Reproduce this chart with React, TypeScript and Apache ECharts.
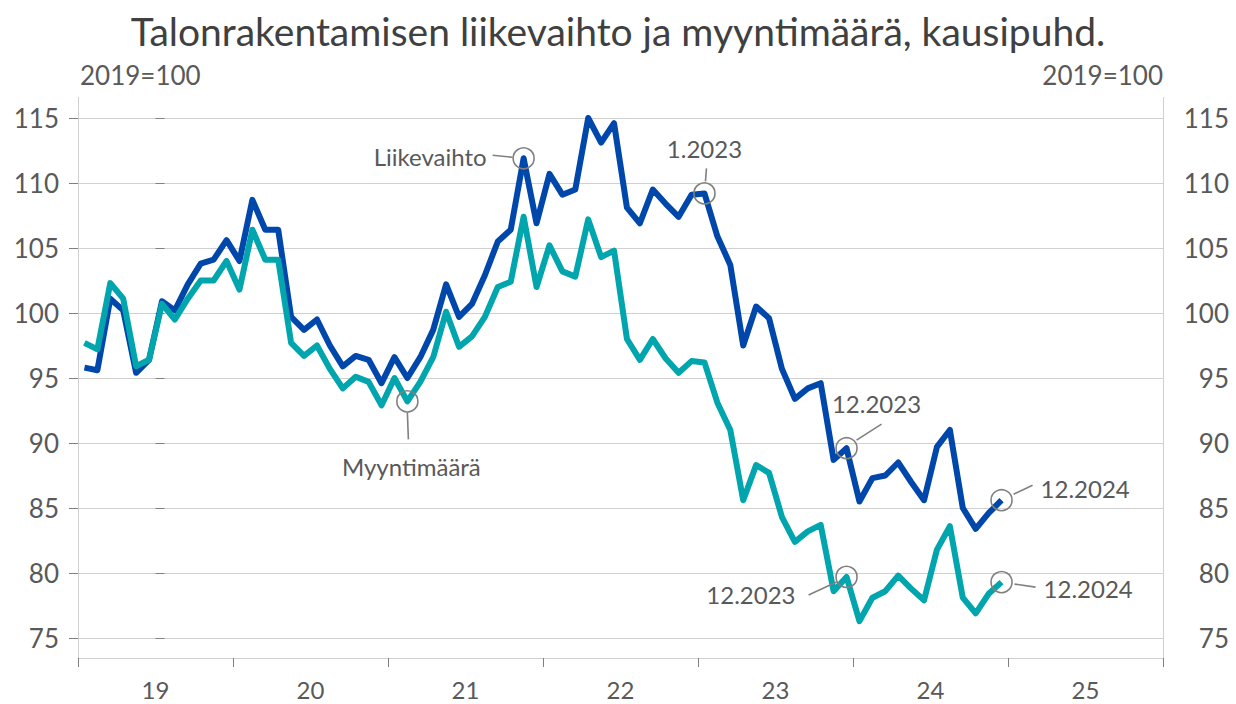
import React, { useEffect, useRef } from "react";
import * as echarts from "echarts";

const yearLabels = ["19", "20", "21", "22", "23", "24", "25"];
const yTicks = [75, 80, 85, 90, 95, 100, 105, 110, 115];

const liikevaihto = [
  95.8, 95.6, 101.1, 100.2, 95.4, 96.4, 100.9, 100.2, 102.2, 103.8, 104.1, 105.6,
  104.0, 108.7, 106.4, 106.4, 99.7, 98.7, 99.5, 97.5, 95.9, 96.7, 96.4, 94.6,
  96.6, 95.0, 96.6, 98.7, 102.2, 99.7, 100.7, 102.9, 105.5, 106.4, 111.9, 106.9,
  110.7, 109.1, 109.5, 115.0, 113.1, 114.6, 108.1, 106.9, 109.5, 108.4, 107.4, 109.1,
  109.2, 105.9, 103.7, 97.5, 100.5, 99.6, 95.7, 93.4, 94.2, 94.6, 88.7, 89.6,
  85.5, 87.3, 87.5, 88.5, 87.0, 85.6, 89.7, 91.0, 85.0, 83.4, 84.6, 85.6,
];

const myyntimaara = [
  97.7, 97.2, 102.3, 101.1, 95.9, 96.4, 100.7, 99.5, 101.1, 102.5, 102.5, 104.0,
  101.8, 106.4, 104.1, 104.1, 97.7, 96.7, 97.5, 95.7, 94.2, 95.1, 94.7, 92.9,
  95.0, 93.2, 94.7, 96.6, 100.1, 97.4, 98.2, 99.7, 102.0, 102.4, 107.4, 102.0,
  105.2, 103.2, 102.8, 107.2, 104.3, 104.8, 98.0, 96.4, 98.0, 96.5, 95.4, 96.3,
  96.2, 93.1, 91.0, 85.6, 88.3, 87.7, 84.3, 82.4, 83.2, 83.7, 78.6, 79.7,
  76.3, 78.1, 78.6, 79.8, 78.8, 77.9, 81.8, 83.6, 78.1, 76.9, 78.4, 79.3,
];

const seriesNames = ["Liikevaihto", "Myyntimäärä"];
const seriesColors = ["#0047AB", "#00A5AD"];

// annotations: series index, month index, label
const annotations = [
  { s: 0, i: 34, text: "Liikevaihto", line: [-31, -3, -11, -1], pos: [-37, -2], align: "right" },
  { s: 1, i: 25, text: "Myyntimäärä", line: [0, 11, 1, 38], pos: [4, 65], align: "center" },
  { s: 0, i: 48, text: "1.2023", line: [2, -25, 1, -12], pos: [0, -45], align: "center" },
  { s: 0, i: 59, text: "12.2023", line: [10, -8, 35, -24], pos: [30, -45], align: "center" },
  { s: 1, i: 59, text: "12.2023", line: [-38, 18, -10, 5], pos: [-51, 18], align: "right" },
  { s: 0, i: 71, text: "12.2024", line: [12, -6, 31, -15], pos: [39, -12], align: "left" },
  { s: 1, i: 71, text: "12.2024", line: [13, 2, 34, 5], pos: [42, 6], align: "left" },
];

const FONT = "Lato";
const TEXT = "#595959";
const GRID = "#d0d0d0";
const TICK = "#808080";

export default function App() {
  const ref = useRef<HTMLDivElement>(null);
  useEffect(() => {
    document.body.style.margin = "0";
    if (!ref.current) return;
    const chart = echarts.init(ref.current, null, { renderer: "svg" });
    const allSeries = [liikevaihto, myyntimaara];
    const option: any = {
      animation: false,
      backgroundColor: "#ffffff",
      textStyle: { fontFamily: FONT },
      grid: { left: 78, right: 73, top: 118, height: 520 },
      xAxis: [
        {
          type: "value",
          min: 0,
          max: 84,
          interval: 12,
          position: "bottom",
          offset: 20,
          axisLine: { show: true, lineStyle: { color: GRID, width: 1 } },
          axisTick: { show: true, length: 9, lineStyle: { color: TICK, width: 1 } },
          axisLabel: { show: false },
          splitLine: { show: false },
        },
        {
          type: "value",
          min: -6,
          max: 78,
          interval: 6,
          position: "bottom",
          offset: 20,
          axisLine: { show: false },
          axisTick: { show: false },
          splitLine: { show: false },
          axisLabel: {
            show: true,
            margin: 19,
            fontFamily: FONT,
            fontSize: 24,
            lineHeight: 24,
            color: TEXT,
            formatter: (v: number) => {
              const k = Math.round(v);
              if (k >= 0 && k % 12 === 0 && k / 12 < yearLabels.length) return yearLabels[k / 12];
              return "";
            },
          },
        },
      ],
      yAxis: [
        {
          type: "value",
          min: yTicks[0],
          max: yTicks[yTicks.length - 1],
          interval: 5,
          position: "left",
          axisLine: { show: false },
          axisTick: { show: true, length: 9, lineStyle: { color: TICK } },
          axisLabel: { margin: 19, fontFamily: FONT, fontSize: 26, color: TEXT },
          splitLine: { show: true, lineStyle: { color: GRID, width: 1 } },
        },
        {
          type: "value",
          min: yTicks[0],
          max: yTicks[yTicks.length - 1],
          interval: 5,
          position: "right",
          axisLine: { show: false },
          axisTick: { show: true, length: 9, lineStyle: { color: TICK } },
          axisLabel: { margin: 66, align: "right", fontFamily: FONT, fontSize: 26, color: TEXT },
          splitLine: { show: false },
        },
      ],
      series: allSeries.map((arr, si) => ({
        name: seriesNames[si],
        type: "line",
        xAxisIndex: 0,
        yAxisIndex: 0,
        symbol: "none",
        z: 3 + si,
        lineStyle: { color: seriesColors[si], width: 6, join: "round" },
        data: arr.map((v, i) => [i + 0.5, v]),
      })),
    };
    chart.setOption(option);

    const graphics: any[] = [
      {
        type: "text",
        x: 618,
        y: 31,
        style: {
          text: "Talonrakentamisen liikevaihto ja myyntimäärä, kausipuhd.",
          fontFamily: FONT,
          fontSize: 39,
          fill: "#404040",
          textAlign: "center",
          textVerticalAlign: "middle",
        },
      },
      {
        type: "text",
        x: 80,
        y: 75,
        style: { text: "2019=100", fontFamily: FONT, fontSize: 26, fill: TEXT, textAlign: "left", textVerticalAlign: "middle" },
      },
      {
        type: "text",
        x: 1163,
        y: 75,
        style: { text: "2019=100", fontFamily: FONT, fontSize: 26, fill: TEXT, textAlign: "right", textVerticalAlign: "middle" },
      },
      {
        type: "line",
        shape: { x1: 78.5, y1: 97, x2: 78.5, y2: 658 },
        style: { stroke: GRID, lineWidth: 1 },
        z: 1,
      },
      {
        type: "line",
        shape: { x1: 1163.5, y1: 97, x2: 1163.5, y2: 658 },
        style: { stroke: GRID, lineWidth: 1 },
        z: 1,
      },
    ];

    annotations.forEach((a) => {
      const arr = allSeries[a.s];
      const p = chart.convertToPixel({ xAxisIndex: 0, yAxisIndex: 0 }, [a.i + 0.5, arr[a.i]]) as number[];
      const [cx, cy] = p;
      graphics.push({
        type: "circle",
        shape: { cx, cy, r: 10.5 },
        style: { fill: "none", stroke: "#808080", lineWidth: 1.6 },
        z: 10,
      });
      graphics.push({
        type: "line",
        shape: { x1: cx + a.line[0], y1: cy + a.line[1], x2: cx + a.line[2], y2: cy + a.line[3] },
        style: { stroke: "#808080", lineWidth: 1.6 },
        z: 10,
      });
      graphics.push({
        type: "text",
        x: cx + a.pos[0],
        y: cy + a.pos[1],
        style: {
          text: a.text,
          fontFamily: FONT,
          fontSize: 24,
          fill: TEXT,
          textAlign: a.align,
          textVerticalAlign: "middle",
        },
        z: 10,
      });
    });

    chart.setOption({ graphic: graphics });
    return () => chart.dispose();
  }, []);
  return <div ref={ref} style={{ width: 1236, height: 704 }} />;
}
